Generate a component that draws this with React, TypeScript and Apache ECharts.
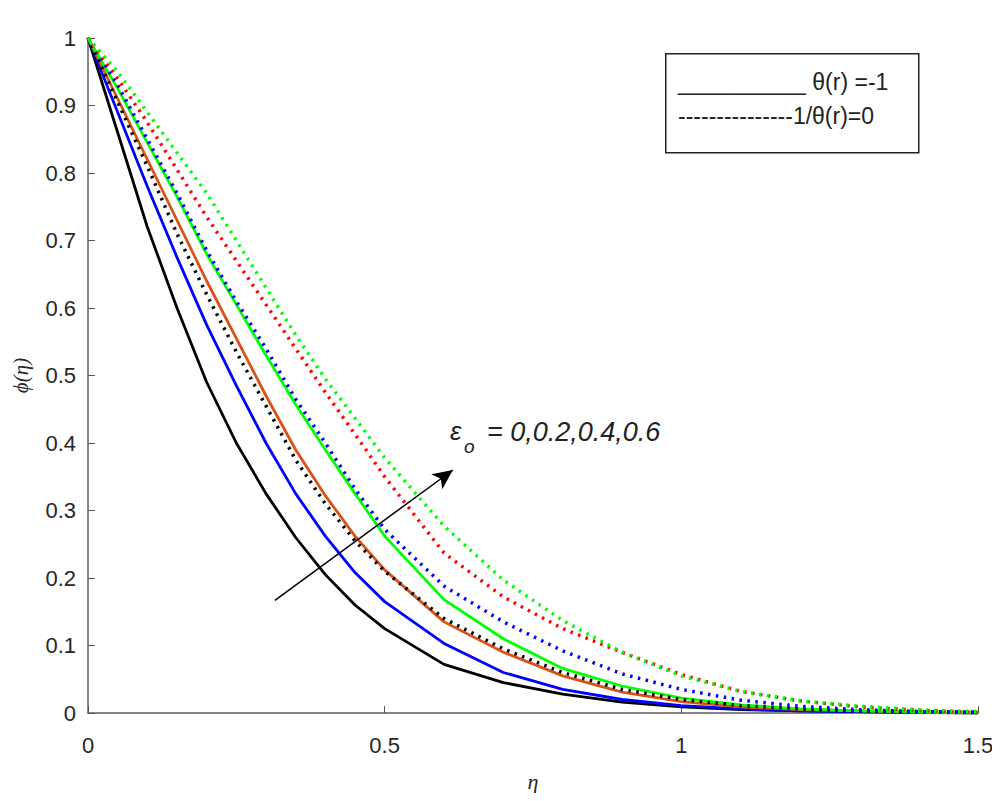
import React, { useEffect, useRef } from "react";
import * as echarts from "echarts";

// η sample points
const eta = [0, 0.05, 0.1, 0.15, 0.2, 0.25, 0.3, 0.35, 0.4, 0.45, 0.5, 0.6, 0.7, 0.8, 0.9, 1.0, 1.1, 1.2, 1.3, 1.4, 1.5];

// θ(r) = -1 (solid lines), ε0 = 0, 0.2, 0.4, 0.6
const solidEps0 = [1, 0.86, 0.72, 0.6, 0.49, 0.4, 0.325, 0.26, 0.205, 0.16, 0.125, 0.072, 0.045, 0.028, 0.016, 0.009, 0.005, 0.003, 0.002, 0.001, 0];
const solidEps02 = [1, 0.89, 0.78, 0.675, 0.575, 0.485, 0.4, 0.325, 0.262, 0.208, 0.165, 0.103, 0.06, 0.035, 0.02, 0.011, 0.006, 0.003, 0.002, 0.001, 0];
const solidEps04 = [1, 0.91, 0.82, 0.73, 0.64, 0.555, 0.47, 0.39, 0.322, 0.262, 0.212, 0.135, 0.09, 0.055, 0.031, 0.017, 0.009, 0.005, 0.003, 0.001, 0];
const solidEps06 = [1, 0.925, 0.845, 0.765, 0.68, 0.605, 0.53, 0.457, 0.39, 0.325, 0.262, 0.168, 0.11, 0.066, 0.04, 0.022, 0.012, 0.006, 0.003, 0.002, 0];

// 1/θ(r) = 0 (dotted lines), ε0 = 0, 0.2, 0.4, 0.6
const dotEps0 = [1, 0.905, 0.81, 0.71, 0.62, 0.535, 0.455, 0.375, 0.31, 0.255, 0.21, 0.14, 0.095, 0.06, 0.035, 0.02, 0.011, 0.006, 0.003, 0.002, 0.001];
const dotEps02 = [1, 0.93, 0.85, 0.77, 0.685, 0.61, 0.54, 0.465, 0.4, 0.332, 0.272, 0.188, 0.135, 0.092, 0.058, 0.035, 0.019, 0.01, 0.005, 0.002, 0.001];
const dotEps04 = [1, 0.94, 0.875, 0.805, 0.735, 0.67, 0.605, 0.54, 0.475, 0.413, 0.35, 0.237, 0.172, 0.125, 0.09, 0.057, 0.032, 0.018, 0.009, 0.004, 0.001];
const dotEps06 = [1, 0.95, 0.89, 0.83, 0.77, 0.7, 0.63, 0.56, 0.495, 0.437, 0.378, 0.277, 0.197, 0.137, 0.09, 0.055, 0.032, 0.018, 0.01, 0.005, 0.002];

const xTicks = [0, 0.5, 1, 1.5];
const legendLines = ["__________ θ(r) =-1", "---------------1/θ(r)=0"];
const annotation = "= 0,0.2,0.4,0.6";
// arrow in data coordinates (tail, head)
const arrowTail = [0.315, 0.167];
const arrowHead = [0.615, 0.36];

const zip = (ys: number[]) => eta.map((x, i) => [x, ys[i]]);

export default function App() {
  const ref = useRef<HTMLDivElement>(null);
  useEffect(() => {
    if (!ref.current) return;
    const chart = echarts.init(ref.current, undefined, { renderer: "svg" });
    const solid = (name: string, data: number[], color: string) => ({
      name,
      type: "line",
      data: zip(data),
      showSymbol: false,
      symbol: "none",
      lineStyle: { color, width: 2.8, type: "solid" },
      z: 2,
    });
    const dotted = (name: string, data: number[], color: string) => ({
      name,
      type: "line",
      data: zip(data),
      showSymbol: false,
      symbol: "none",
      lineStyle: { color, width: 3.5, type: [2.5, 5.5] },
      z: 3,
    });
    const option: any = {
      animation: false,
      backgroundColor: "#ffffff",
      grid: { left: 88, right: 22, top: 38, bottom: 88, containLabel: false },
      xAxis: {
        type: "value",
        min: 0,
        max: 1.5,
        interval: 0.5,
        name: "η",
        nameLocation: "middle",
        nameGap: 57,
        nameTextStyle: { fontFamily: "Liberation Serif", fontStyle: "italic", fontSize: 22, color: "#262626" },
        axisLine: { show: true, lineStyle: { color: "#858585", width: 2 } },
        axisTick: { show: true, inside: true, length: 7, lineStyle: { color: "#555", width: 1 } },
        axisLabel: {
          fontFamily: "Liberation Sans",
          fontSize: 22,
          color: "#262626",
          margin: 21,
          formatter: (v: number) => (xTicks.includes(v) ? String(v) : ""),
        },
        splitLine: { show: false },
      },
      yAxis: {
        type: "value",
        min: 0,
        max: 1,
        interval: 0.1,
        name: "ϕ(η)",
        nameLocation: "middle",
        nameGap: 57,
        nameRotate: 90,
        nameTextStyle: { fontFamily: "Liberation Serif", fontStyle: "italic", fontSize: 21, color: "#262626" },
        axisLine: { show: true, lineStyle: { color: "#858585", width: 2 } },
        axisTick: { show: true, inside: true, length: 7, lineStyle: { color: "#555", width: 1 } },
        axisLabel: {
          fontFamily: "Liberation Sans",
          fontSize: 22,
          color: "#262626",
          margin: 12,
          formatter: (v: number) => String(Math.round(v * 10) / 10),
        },
        splitLine: { show: false },
      },
      series: [
        solid("θ=-1, ε0=0", solidEps0, "#000000"),
        solid("θ=-1, ε0=0.2", solidEps02, "#0000ff"),
        solid("θ=-1, ε0=0.4", solidEps04, "#d95319"),
        solid("θ=-1, ε0=0.6", solidEps06, "#00ff00"),
        dotted("1/θ=0, ε0=0", dotEps0, "#000000"),
        dotted("1/θ=0, ε0=0.2", dotEps02, "#0000ff"),
        dotted("1/θ=0, ε0=0.4", dotEps04, "#ff0000"),
        {
          ...dotted("1/θ=0, ε0=0.6", dotEps06, "#00ff00"),
          markLine: {
            silent: true,
            symbol: ["none", "arrow"],
            symbolSize: [14, 20],
            label: { show: false },
            lineStyle: { color: "#000", width: 1.5, type: "solid" },
            data: [[{ coord: arrowTail }, { coord: arrowHead }]],
          },
        },
      ],
      graphic: [
        {
          type: "rect",
          left: 665,
          top: 53,
          shape: { width: 253, height: 99 },
          style: { fill: "#fff", stroke: "#222", lineWidth: 1.5 },
          z: 10,
        },
        {
          type: "text",
          left: 678,
          top: 70,
          style: { text: legendLines[0], fontFamily: "Liberation Sans", fontSize: 23, fill: "#222" },
          z: 11,
        },
        {
          type: "text",
          left: 678,
          top: 104,
          style: { text: legendLines[1], fontFamily: "Liberation Sans", fontSize: 23, fill: "#222" },
          z: 11,
        },
        {
          type: "text",
          left: 450,
          top: 418,
          style: { text: "ε", fontFamily: "Liberation Sans", fontStyle: "italic", fontSize: 26, fill: "#222" },
          z: 11,
        },
        {
          type: "text",
          left: 464,
          top: 437,
          style: { text: "o", fontFamily: "Liberation Sans", fontStyle: "italic", fontSize: 19, fill: "#222" },
          z: 11,
        },
        {
          type: "text",
          left: 487,
          top: 418,
          style: { text: annotation, fontFamily: "Liberation Sans", fontStyle: "italic", fontSize: 27, fill: "#222" },
          z: 11,
        },
      ],
    };
    chart.setOption(option);
    return () => chart.dispose();
  }, []);
  return <div ref={ref} style={{ width: 1000, height: 801, margin: -8 }} />;
}
